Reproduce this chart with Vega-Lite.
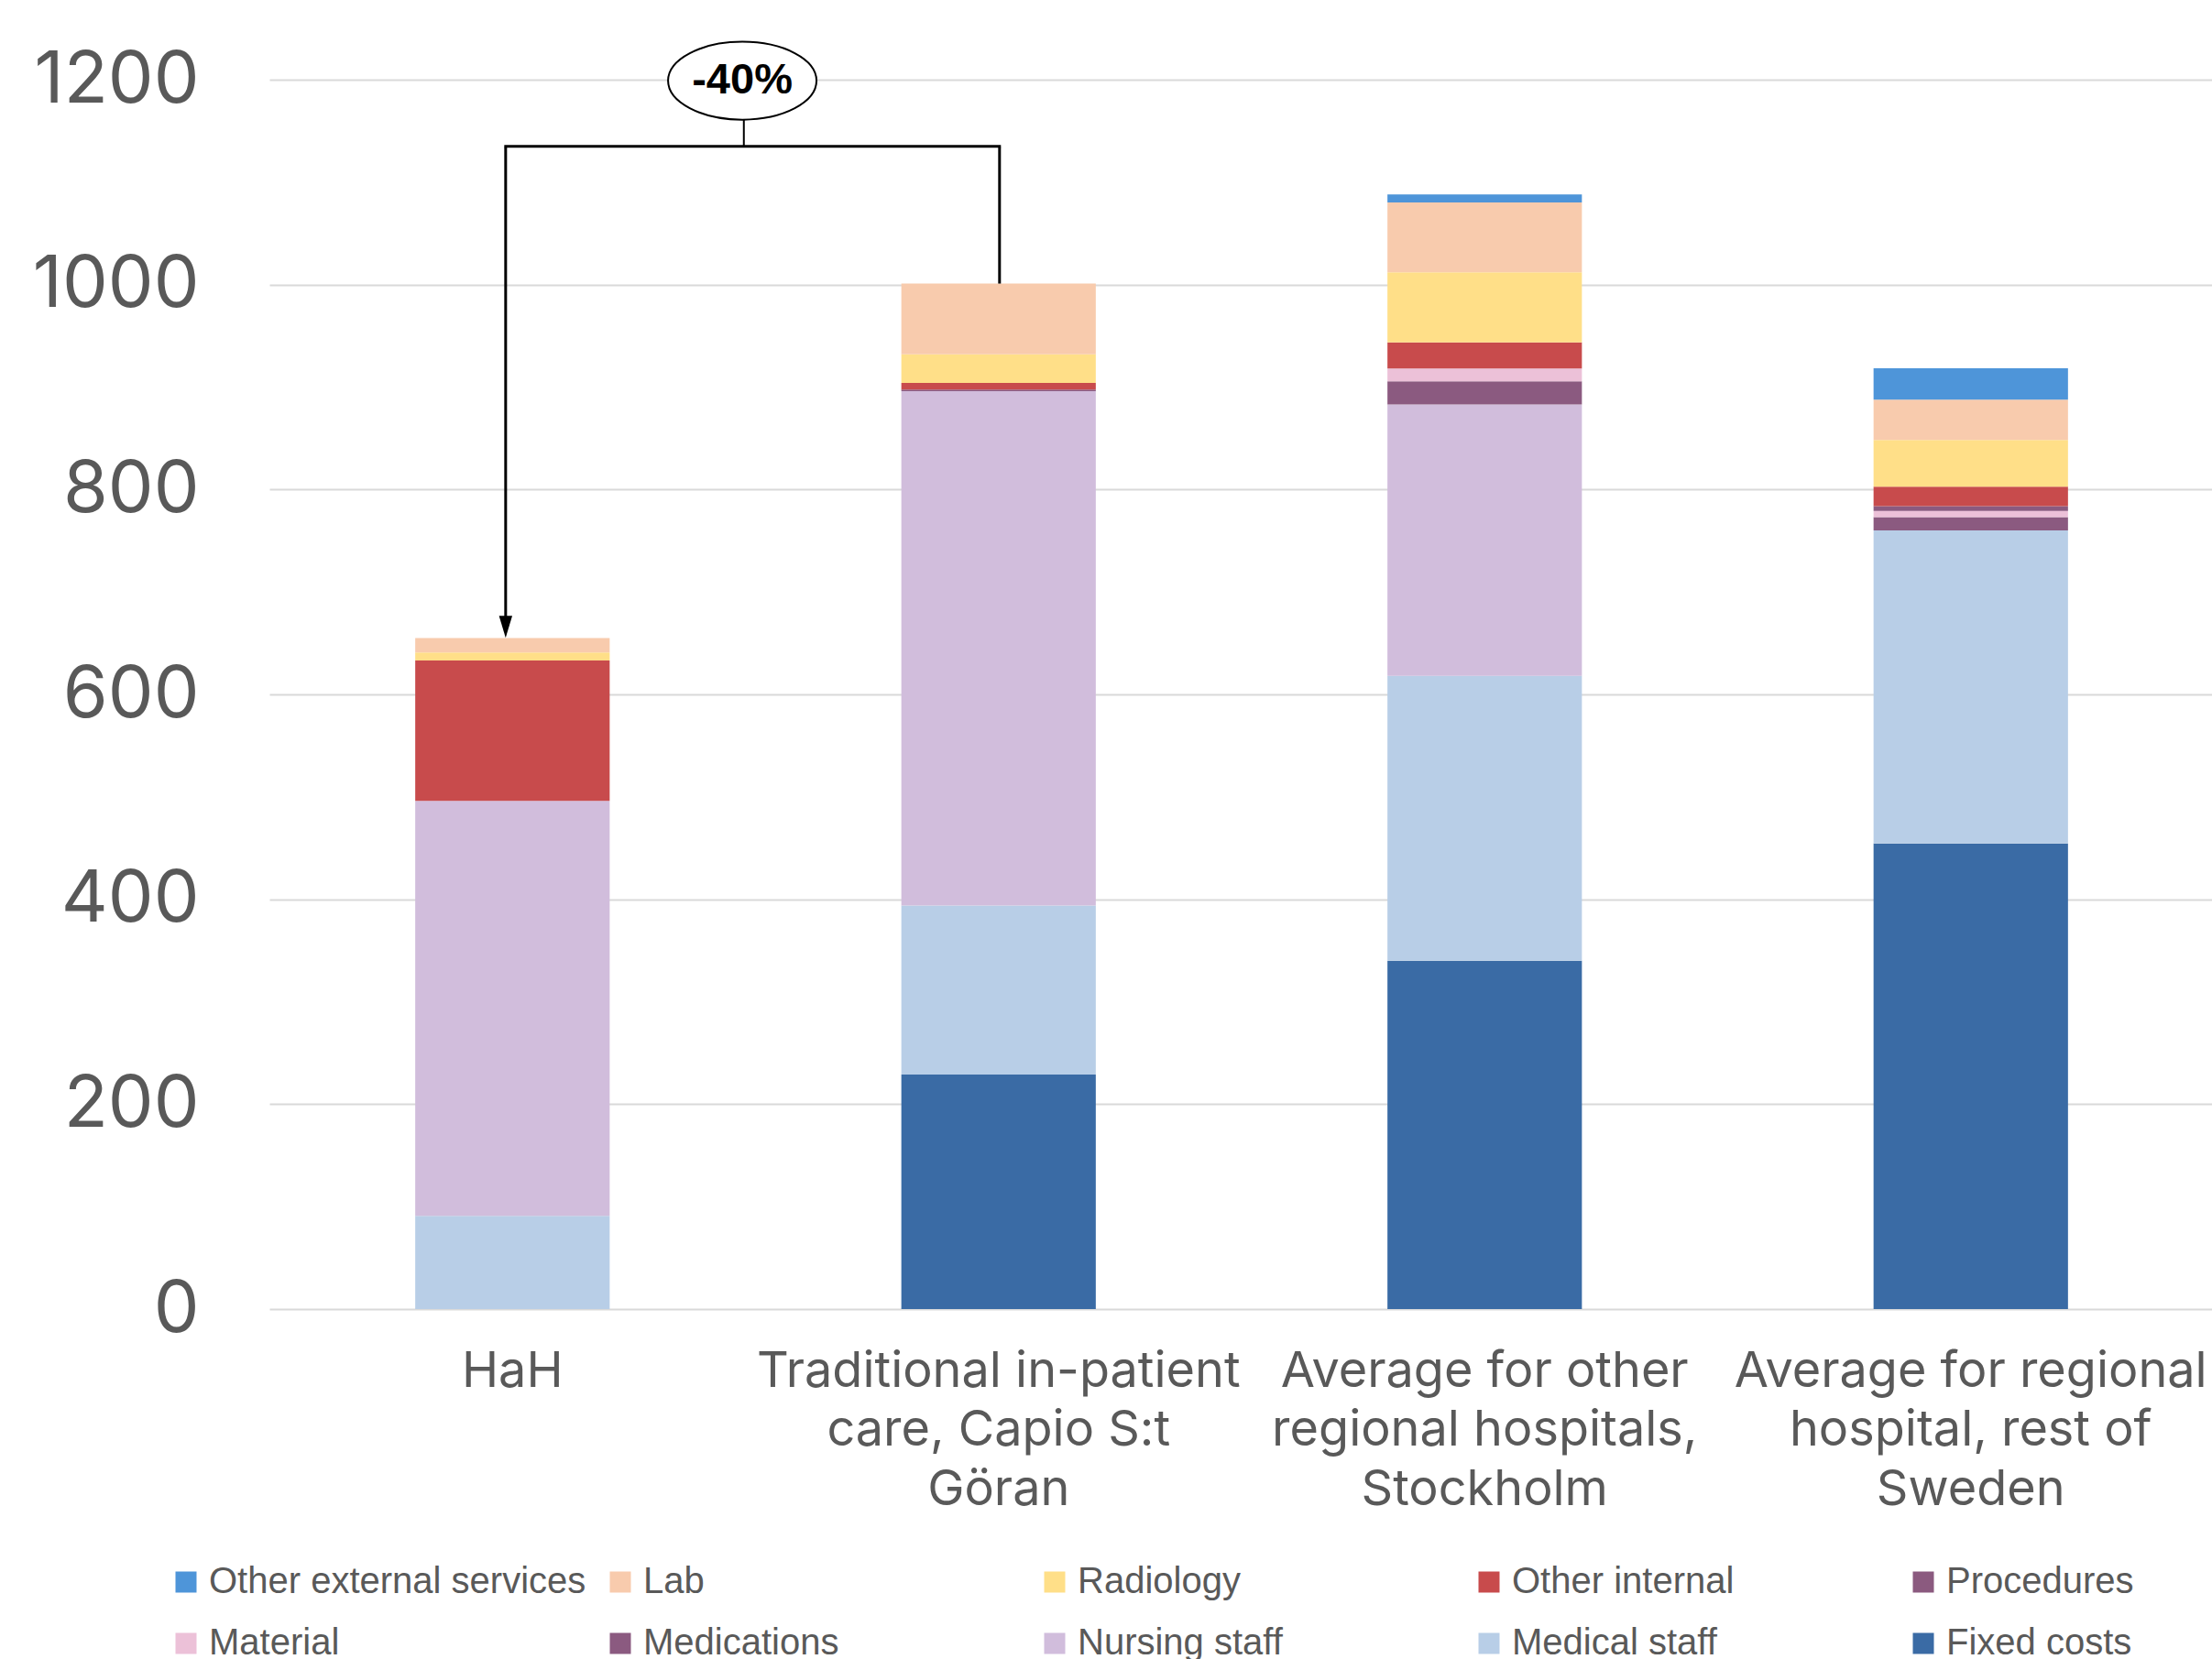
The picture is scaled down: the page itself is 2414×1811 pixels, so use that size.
{
  "$schema": "https://vega.github.io/schema/vega-lite/v6.json",
  "width": 2122,
  "height": 1342,
  "autosize": {"type": "none"},
  "padding": {"left": 294, "top": 87, "right": 0, "bottom": 382},
  "background": "white",
  "config": {"view": {"stroke": null}},
  "datasets": {
    "costs": [
      {"hospital": "HaH", "category": "Medical staff", "cost": 91},
      {"hospital": "HaH", "category": "Nursing staff", "cost": 405},
      {"hospital": "HaH", "category": "Other internal", "cost": 137},
      {"hospital": "HaH", "category": "Radiology", "cost": 8},
      {"hospital": "HaH", "category": "Lab", "cost": 14},
      {"hospital": "Traditional in-patient care, Capio S:t Göran", "category": "Fixed costs", "cost": 229},
      {"hospital": "Traditional in-patient care, Capio S:t Göran", "category": "Medical staff", "cost": 165},
      {"hospital": "Traditional in-patient care, Capio S:t Göran", "category": "Nursing staff", "cost": 502},
      {"hospital": "Traditional in-patient care, Capio S:t Göran", "category": "Medications", "cost": 1.5},
      {"hospital": "Traditional in-patient care, Capio S:t Göran", "category": "Other internal", "cost": 6.5},
      {"hospital": "Traditional in-patient care, Capio S:t Göran", "category": "Radiology", "cost": 28},
      {"hospital": "Traditional in-patient care, Capio S:t Göran", "category": "Lab", "cost": 69},
      {"hospital": "Average for other regional hospitals, Stockholm", "category": "Fixed costs", "cost": 340},
      {"hospital": "Average for other regional hospitals, Stockholm", "category": "Medical staff", "cost": 278},
      {"hospital": "Average for other regional hospitals, Stockholm", "category": "Nursing staff", "cost": 265},
      {"hospital": "Average for other regional hospitals, Stockholm", "category": "Medications", "cost": 22.6},
      {"hospital": "Average for other regional hospitals, Stockholm", "category": "Material", "cost": 12.6},
      {"hospital": "Average for other regional hospitals, Stockholm", "category": "Other internal", "cost": 25.4},
      {"hospital": "Average for other regional hospitals, Stockholm", "category": "Radiology", "cost": 68.5},
      {"hospital": "Average for other regional hospitals, Stockholm", "category": "Lab", "cost": 68},
      {"hospital": "Average for other regional hospitals, Stockholm", "category": "Other external services", "cost": 7.8},
      {"hospital": "Average for regional hospital, rest of Sweden", "category": "Fixed costs", "cost": 454.5},
      {"hospital": "Average for regional hospital, rest of Sweden", "category": "Medical staff", "cost": 305.5},
      {"hospital": "Average for regional hospital, rest of Sweden", "category": "Medications", "cost": 13},
      {"hospital": "Average for regional hospital, rest of Sweden", "category": "Material", "cost": 6},
      {"hospital": "Average for regional hospital, rest of Sweden", "category": "Procedures", "cost": 4.7},
      {"hospital": "Average for regional hospital, rest of Sweden", "category": "Other internal", "cost": 19},
      {"hospital": "Average for regional hospital, rest of Sweden", "category": "Radiology", "cost": 45.6},
      {"hospital": "Average for regional hospital, rest of Sweden", "category": "Lab", "cost": 39.3},
      {"hospital": "Average for regional hospital, rest of Sweden", "category": "Other external services", "cost": 30.7}
    ]
  },
  "layer": [
    {
      "data": {"name": "costs"},
      "transform": [
        {"calculate": "indexof(['Fixed costs','Medical staff','Nursing staff','Medications','Material','Procedures','Other internal','Radiology','Lab','Other external services'], datum.category)", "as": "stackOrder"}
      ],
      "mark": {"type": "bar"},
      "encoding": {
        "x": {
          "field": "hospital", "type": "nominal",
          "scale": {
            "domain": ["HaH", "Traditional in-patient care, Capio S:t Göran", "Average for other regional hospitals, Stockholm", "Average for regional hospital, rest of Sweden"],
            "paddingInner": 0.6, "paddingOuter": 0.3
          },
          "axis": {
            "title": null, "domain": false, "ticks": false, "labelAngle": 0,
            "labelFont": "Inter", "labelFontSize": 54, "labelColor": "#595959",
            "labelPadding": 41, "labelLineHeight": 64.5, "labelLimit": 1000,
            "labelExpr": "datum.value == 'HaH' ? 'HaH' : datum.value == 'Traditional in-patient care, Capio S:t Göran' ? ['Traditional in-patient', 'care, Capio S:t', 'Göran'] : datum.value == 'Average for other regional hospitals, Stockholm' ? ['Average for other', 'regional hospitals,', 'Stockholm'] : ['Average for regional', 'hospital, rest of', 'Sweden']"
          }
        },
        "y": {
          "field": "cost", "type": "quantitative", "stack": "zero",
          "scale": {"domain": [0, 1200], "nice": false},
          "axis": {
            "title": null, "domain": false, "ticks": false, "format": "d",
            "values": [0, 200, 400, 600, 800, 1000, 1200],
            "grid": true, "gridColor": "#D9D9D9", "gridWidth": 2,
            "labelFont": "Inter", "labelFontSize": 79, "labelColor": "#595959",
            "labelPadding": 77, "labelLimit": 400
          }
        },
        "color": {
          "field": "category", "type": "nominal",
          "scale": {
            "domain": ["Other external services", "Lab", "Radiology", "Other internal", "Procedures", "Material", "Medications", "Nursing staff", "Medical staff", "Fixed costs"],
            "range": ["#4E95D9", "#F8CBAD", "#FFDF88", "#C84B4C", "#8B5A7F", "#ECC1D8", "#8B5A80", "#D1BDDC", "#B8CEE7", "#3A6BA5"]
          },
          "legend": {
            "title": null, "orient": "none", "legendX": -111, "legendY": 1620,
            "direction": "horizontal", "columns": 5, "gridAlign": "all",
            "columnPadding": 17, "rowPadding": 27,
            "symbolType": "square", "symbolSize": 529, "symbolStrokeWidth": 0,
            "labelFont": "Liberation Sans",
            "labelFontSize": 40, "labelColor": "#595959", "labelOffset": 5, "labelLimit": 700
          }
        },
        "order": {"field": "stackOrder", "type": "quantitative", "sort": "ascending"}
      }
    },
    {
      "data": {"values": [{"hospital": "HaH", "y": 664, "y2": 1134}]},
      "mark": {"type": "rule", "color": "black", "strokeWidth": 3},
      "encoding": {
        "x": {"field": "hospital", "type": "nominal", "bandPosition": 0.465},
        "y": {"field": "y", "type": "quantitative"},
        "y2": {"field": "y2"}
      }
    },
    {
      "data": {"values": [{"hospital": "Traditional in-patient care, Capio S:t Göran", "y": 1001, "y2": 1134}]},
      "mark": {"type": "rule", "color": "black", "strokeWidth": 3},
      "encoding": {
        "x": {"field": "hospital", "type": "nominal", "bandPosition": 0.505},
        "y": {"field": "y", "type": "quantitative"},
        "y2": {"field": "y2"}
      }
    },
    {
      "data": {"values": [{"hospital": "HaH", "hospital2": "Traditional in-patient care, Capio S:t Göran", "y": 1135}]},
      "mark": {"type": "rule", "color": "black", "strokeWidth": 3, "strokeCap": "square"},
      "encoding": {
        "x": {"field": "hospital", "type": "nominal", "bandPosition": 0.465},
        "x2": {"field": "hospital2", "bandPosition": 0.505},
        "y": {"field": "y", "type": "quantitative"}
      }
    },
    {
      "data": {"values": [{"hospital": "HaH", "y": 1135, "y2": 1163}]},
      "mark": {"type": "rule", "color": "black", "strokeWidth": 2},
      "encoding": {
        "x": {"field": "hospital", "type": "nominal", "bandPosition": 1.69},
        "y": {"field": "y", "type": "quantitative"},
        "y2": {"field": "y2"}
      }
    },
    {
      "data": {"values": [{"hospital": "HaH", "y": 666}]},
      "mark": {"type": "point", "shape": "M-0.6,-1L0.6,-1L0,1Z", "size": 576, "filled": true, "color": "black", "opacity": 1},
      "encoding": {
        "x": {"field": "hospital", "type": "nominal", "bandPosition": 0.465},
        "y": {"field": "y", "type": "quantitative"}
      }
    },
    {
      "data": {"values": [{"hospital": "HaH", "y": 1199, "label": "-40%"}]},
      "mark": {"type": "point", "shape": "M-1,0A1,0.525,0,1,1,1,0A1,0.525,0,1,1,-1,0Z", "size": 26244, "fill": "white", "stroke": "black", "strokeWidth": 2, "opacity": 1, "fillOpacity": 1, "strokeOpacity": 1},
      "encoding": {
        "x": {"field": "hospital", "type": "nominal", "bandPosition": 1.682},
        "y": {"field": "y", "type": "quantitative"}
      }
    },
    {
      "data": {"values": [{"hospital": "HaH", "y": 1199, "label": "-40%"}]},
      "mark": {"type": "text", "font": "Liberation Sans", "fontWeight": "bold", "fontSize": 47, "color": "black", "baseline": "middle", "align": "center"},
      "encoding": {
        "x": {"field": "hospital", "type": "nominal", "bandPosition": 1.682},
        "y": {"field": "y", "type": "quantitative"},
        "text": {"field": "label"}
      }
    }
  ]
}
